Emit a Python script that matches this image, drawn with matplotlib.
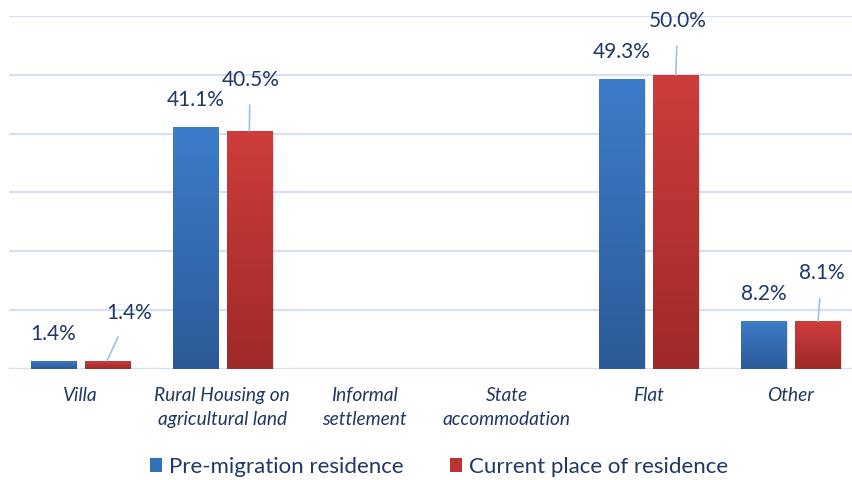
import matplotlib
matplotlib.use("Agg")
import matplotlib.pyplot as plt
import numpy as np
from matplotlib.patches import Rectangle
from matplotlib.colors import LinearSegmentedColormap

categories = ["Villa", "Rural Housing on\nagricultural land", "Informal\nsettlement",
              "State\naccommodation", "Flat", "Other"]
pre_migration = [1.4, 41.1, None, None, 49.3, 8.2]
current = [1.4, 40.5, None, None, 50.0, 8.1]
series_names = ["Pre-migration residence", "Current place of residence"]

# label offsets for current-residence labels (pixels), with leader lines
red_label_offsets = [(22, 48), (1, 51), None, None, (2, 54), (4, 48)]

W, H = 852, 480
fig = plt.figure(figsize=(W / 100, H / 100), dpi=100)
ax = fig.add_axes([9 / W, 111 / H, 853 / W, 353 / H])
ax.set_xlim(-0.5, 5.5)
ax.set_ylim(0, 60)

grid_c = "#D6E0F0"
for y in range(0, 61, 10):
    ax.axhline(y, color=grid_c, lw=1.6, zorder=0)
for s in ax.spines.values():
    s.set_visible(False)
ax.set_yticks([])
ax.set_xticks(range(len(categories)))
ax.set_xticklabels(categories, fontfamily="Lato", fontstyle="italic", fontsize=13.8,
                   color="#1F3864", linespacing=1.5)
ax.tick_params(axis="x", length=0, pad=13)

blue_cmap = LinearSegmentedColormap.from_list("b", ["#3D7DCA", "#2C5A98"])
red_cmap = LinearSegmentedColormap.from_list("r", ["#CE3D3B", "#9E2A29"])
grad = np.linspace(0, 1, 256).reshape(-1, 1)

bw = 0.317
off = 0.19
lab_c = "#1F3864"


def grad_bar(x, h, cmap):
    rect = Rectangle((x - bw / 2, 0), bw, h, facecolor="none", edgecolor="none", zorder=2)
    ax.add_patch(rect)
    sh = Rectangle((x - bw / 2 + 0.012, 0), bw, h - 0.15, facecolor="#000000", alpha=0.12,
                   edgecolor="none", zorder=1.5)
    ax.add_patch(sh)
    im = ax.imshow(grad, cmap=cmap, aspect="auto", extent=(x - bw / 2, x + bw / 2, 0, h),
                   origin="upper", zorder=2, interpolation="bilinear")
    im.set_clip_path(rect)


for i, (p, c) in enumerate(zip(pre_migration, current)):
    if p is not None:
        grad_bar(i - off, p, blue_cmap)
        ax.annotate(f"{p:.1f}%", (i - off, p), xytext=(0, 27), textcoords="offset pixels",
                    ha="center", va="center", fontsize=15, fontfamily="Lato", color=lab_c)
    if c is not None:
        grad_bar(i + off, c, red_cmap)
        dx, dy = red_label_offsets[i]
        ax.annotate(f"{c:.1f}%", (i + off, c), xytext=(dx, dy), textcoords="offset pixels",
                    ha="center", va="center", fontsize=15, fontfamily="Lato", color=lab_c,
                    arrowprops=dict(arrowstyle="-", color="#9DC3E6", lw=1.2,
                                    shrinkA=9, shrinkB=0))

ax.set_xlim(-0.5, 5.5)
ax.set_ylim(0, 60)

handles = [Rectangle((0, 0), 1, 1, facecolor="#3470B8"), Rectangle((0, 0), 1, 1, facecolor="#B83332")]
fig.legend(handles, series_names, loc="center", bbox_to_anchor=(439 / W, 1 - 467 / H), ncol=2,
           frameon=False, prop={"family": "Lato", "size": 16}, labelcolor="#1F3864",
           handlelength=0.55, handleheight=0.55, handletextpad=0.3, columnspacing=2.1)

fig.savefig("out.png", dpi=100)
